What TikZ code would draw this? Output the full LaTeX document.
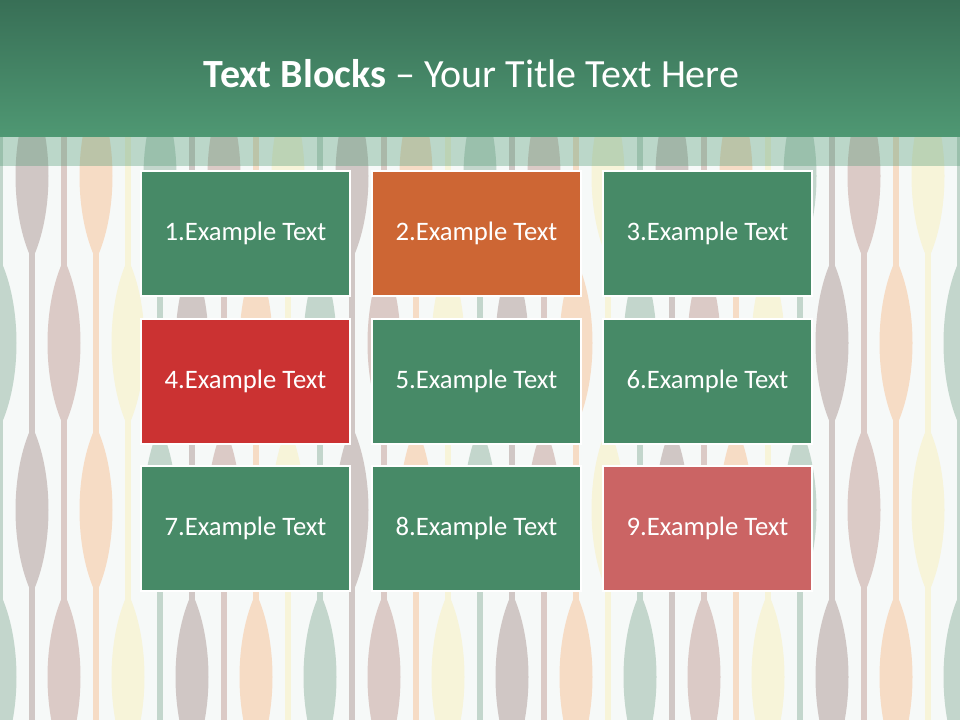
\documentclass[tikz,border=0pt]{standalone}
\usepackage{fontspec}
\setmainfont{Carlito}
\usepackage{xcolor}
\usepackage{tikz}

\definecolor{pagebg}{HTML}{F6F9F8}
\definecolor{pat0}{HTML}{C3D6CC}
\definecolor{pat1}{HTML}{D0C7C5}
\definecolor{pat2}{HTML}{DBCAC6}
\definecolor{pat3}{HTML}{F6DCC5}
\definecolor{pat4}{HTML}{F7F4D9}
\definecolor{headtop}{HTML}{386F56}
\definecolor{headbot}{HTML}{4F9873}
\definecolor{boxgreen}{HTML}{478A67}
\definecolor{boxorange}{HTML}{CD6634}
\definecolor{boxred}{HTML}{CB3232}
\definecolor{boxrose}{HTML}{CB6464}

\tikzset{
  blockbox/.style={draw=white, line width=1.5pt, minimum width=156.75pt,
    minimum height=93.75pt, inner sep=0pt, text=white,
    font=\fontsize{20}{24}\selectfont},
}

\begin{document}
\begin{tikzpicture}[x=0.75pt, y=-0.75pt]
    \useasboundingbox (0,0) rectangle (960,720);
    \clip (0,0) rectangle (960,720);
    \fill[pagebg] (0,0) rectangle (960,720);
    % wallpaper: lines and paddles
    \foreach \k in {0,...,30} {
        \pgfmathtruncatemacro\c{mod(\k,5)}
        \pgfmathsetmacro\px{32*\k}
        \pgfmathsetmacro\ph{9+167*mod(\k,2)}
        \draw[pat\c, line width=4.5pt] (\px,0) -- (\px,720);
        \foreach \n in {0,1,2} {
            \pgfmathsetmacro\cy{\ph+334*\n}
            \fill[pat\c] (\px,\cy-84) .. controls (\px+22,\cy-38) and (\px+22,\cy+38) .. (\px,\cy+84)
                .. controls (\px-22,\cy+38) and (\px-22,\cy-38) .. cycle;
        }
    }
    % header
    \shade[top color=headtop, bottom color=headbot] (0,0) rectangle (960,137);
    \fill[headbot, opacity=0.35] (0,137) rectangle (960,166);
    \node[anchor=base, text=white, font=\fontsize{30}{35}\selectfont] (title) at (471.5,88)
        {\textbf{Text Blocks} – Your Title Text Here};
    % blocks
    \foreach \n/\x/\y/\col in {1/245.5/233.5/boxgreen, 2/476.5/233.5/boxorange, 3/707.5/233.5/boxgreen,
        4/245.5/381/boxred, 5/476.5/381/boxgreen, 6/707.5/381/boxgreen,
        7/245.5/528.5/boxgreen, 8/476.5/528.5/boxgreen, 9/707.5/528.5/boxrose}
        \node[blockbox, fill=\col] (b\n) at (\x,\y) {\n.Example Text};
\end{tikzpicture}
\end{document}
